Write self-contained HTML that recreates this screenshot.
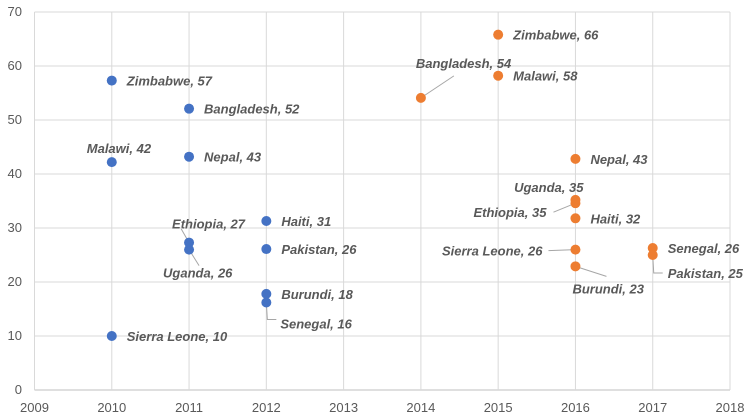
<!DOCTYPE html>
<html><head><meta charset="utf-8"><style>
body{margin:0;background:#fff;}
svg{display:block;font-family:"Liberation Sans",sans-serif;}
.tick{font-size:13px;fill:#595959;}
.lbl{font-size:13px;font-weight:bold;font-style:italic;fill:#595959;}
</style></head><body>
<svg width="750" height="419">
<g id="grid"></g>
<g id="axes"></g>
<g id="marks"></g>
</svg>
<script>
const xTicks=[2009,2010,2011,2012,2013,2014,2015,2016,2017,2018];
const yTicks=[0,10,20,30,40,50,60,70];
const blueNames=["Zimbabwe","Bangladesh","Malawi","Nepal","Ethiopia","Uganda","Haiti","Pakistan","Burundi","Senegal","Sierra Leone"];
const blueYears=[2010,2011,2010,2011,2011,2011,2012,2012,2012,2012,2010];
const blueValues=[57.3,52.1,42.2,43.2,27.3,26,31.3,26.1,17.8,16.2,10];
const blueLabels=[57,52,42,43,27,26,31,26,18,16,10];
const orangeNames=["Bangladesh","Zimbabwe","Malawi","Nepal","Uganda","Ethiopia","Haiti","Sierra Leone","Burundi","Senegal","Pakistan"];
const orangeYears=[2014,2015,2015,2016,2016,2016,2016,2016,2016,2017,2017];
const orangeValues=[54.1,65.8,58.2,42.8,35.2,34.6,31.8,26,22.9,26.3,25];
const orangeLabels=[54,66,58,43,35,35,32,26,23,26,25];
// label placement (pixel offsets from marker): dx, dy, anchor, leader
const blueOff=[[15,0,"start"],[15,0,"start"],[-25,-14,"start"],[15,0,"start"],[-17,-19,"start",[[0,0],[-8,-14]]],[-26,23,"start",[[0,0],[10,16]]],[15,0,"start"],[15,0,"start"],[15,0,"start"],[14,21,"start",[[0,0],[1,17],[10,17]]],[15,0,"start"]];
const orangeOff=[[-5,-35,"start",[[0,0],[33,-22]]],[15,0,"start"],[15,0,"start"],[15,0,"start"],[8,-13,"end"],[-29,9,"end",[[0,0],[-22,9]]],[15,0,"start"],[-33,1,"end",[[0,0],[-27,1]]],[-3,22,"start",[[0,0],[31,10]]],[15,0,"start"],[15,18,"start",[[0,0],[1,18],[10,18]]]];
const X0=34.5,X1=730,Y0=390,Y1=12;
const xs=v=>X0+(v-2009)/(2018-2009)*(X1-X0);
const ys=v=>Y0-(v/70)*(Y0-Y1);
const NS="http://www.w3.org/2000/svg";
function mk(t,a,p){const e=document.createElementNS(NS,t);for(const k in a)e.setAttribute(k,a[k]);p.appendChild(e);return e;}
const grid=document.getElementById('grid'),axes=document.getElementById('axes'),marks=document.getElementById('marks');
yTicks.forEach(v=>{
 const l=mk('line',{x1:X0,x2:X1,y1:ys(v),y2:ys(v),stroke:v===0?'#bfbfbf':'#d9d9d9','stroke-width':1},grid);
 
 
 const t=mk('text',{x:22,y:ys(v)+4,'text-anchor':'end',class:'tick'},axes);t.textContent=v;
 
 
});
xTicks.forEach(v=>{
 const l=mk('line',{x1:xs(v),x2:xs(v),y1:Y1,y2:Y0,stroke:'#d9d9d9','stroke-width':1},grid);
 
 
 const t=mk('text',{x:xs(v),y:412,'text-anchor':'middle',class:'tick'},axes);t.textContent=v;
 
 
});
function series(names,years,vals,labs,offs,color,sname){
 names.forEach((n,i)=>{
  const cx=xs(years[i]),cy=ys(vals[i]),o=offs[i];
  if(o[3]){const pts=o[3].map(p=>(cx+p[0])+','+(cy+p[1])).join(' ');
   const pl=mk('polyline',{points:pts,fill:'none',stroke:'#a6a6a6','stroke-width':1},marks);
   
   }
  const c=mk('circle',{cx:cx,cy:cy,r:5,fill:color},marks);
  
  
  const t=mk('text',{x:cx+o[0],y:cy+o[1]+5,'text-anchor':o[2],class:'lbl'},marks);
  t.textContent=n+', '+labs[i];
  
  
 });
}
series(blueNames,blueYears,blueValues,blueLabels,blueOff,'#4472c4','blue-series');
series(orangeNames,orangeYears,orangeValues,orangeLabels,orangeOff,'#ed7d31','orange-series');
</script>
</body></html>
